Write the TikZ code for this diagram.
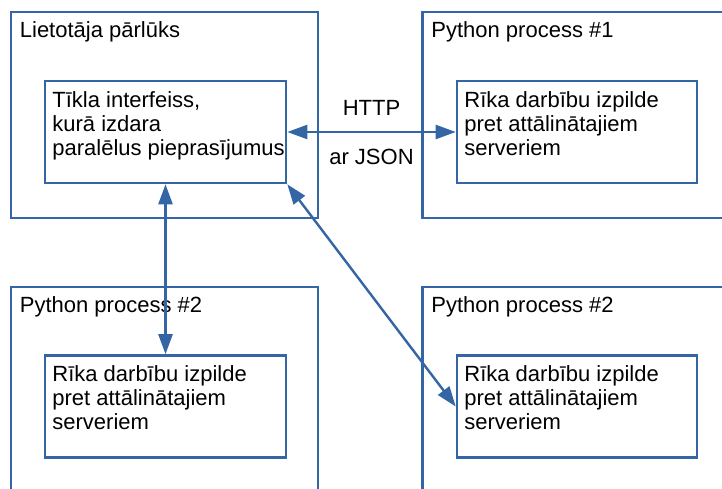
\documentclass[tikz,border=0pt]{standalone}
\usepackage{fontspec}
\setmainfont{Liberation Sans}
\usetikzlibrary{arrows.meta}
\definecolor{procblue}{HTML}{3465A4}
\tikzset{
  outerbox/.style={draw=procblue, line width=2.6pt, minimum width=307pt, minimum height=206pt, inner sep=0},
  innerbox/.style={draw=procblue, line width=2.6pt, minimum width=240pt, minimum height=102pt, inner sep=0},
  boxtitle/.style={anchor=north west, inner sep=0, xshift=10pt, yshift=-11pt},
  boxtext/.style={anchor=north west, align=left, inner sep=0, xshift=8.5pt, yshift=-11.5pt},
  link/.style={draw=procblue, line width=2.4pt, {Triangle[length=20pt,width=14pt]}-{Triangle[length=20pt,width=14pt]}}
}
\begin{document}
\begin{tikzpicture}[x=1pt,y=-1pt,font=\fontsize{22}{24}\selectfont]
\useasboundingbox (0,0) rectangle (722,489);
\clip (0,0) rectangle (722,489);
% outer boxes
\node[outerbox, label={[boxtitle]north west:Lietotāja pārlūks}] (browser) at (164.5,115) {};
\node[outerbox, label={[boxtitle]north west:Python process \#1}] (proc1) at (576,115) {};
\node[outerbox, label={[boxtitle]north west:Python process \#2}] (proc2) at (164.5,390) {};
\node[outerbox, label={[boxtitle]north west:Python process \#2}] (proc3) at (576,390) {};
% inner boxes
\node[innerbox, minimum width=241pt, label={[boxtext]north west:Tīkla interfeiss,\\kurā izdara\\paralēlus pieprasījumus}] (web) at (165.5,132) {};
\node[innerbox, label={[boxtext]north west:Rīka darbību izpilde\\pret attālinātajiem\\serveriem}] (tool1) at (577,132) {};
\node[innerbox, minimum width=241pt, label={[boxtext]north west:Rīka darbību izpilde\\pret attālinātajiem\\serveriem}] (tool2) at (165.5,406.5) {};
\node[innerbox, label={[boxtext]north west:Rīka darbību izpilde\\pret attālinātajiem\\serveriem}] (tool3) at (577,406.5) {};
% connectors
\draw[link] (web.east) -- node[above=15pt, inner sep=0] (http) {HTTP} node[below=16pt, inner sep=0] (json) {ar JSON} (tool1.west);
\draw[link] (web.south) -- (tool2.north);
\draw[link] (web.south east) -- (tool3.west);
\end{tikzpicture}
\end{document}
